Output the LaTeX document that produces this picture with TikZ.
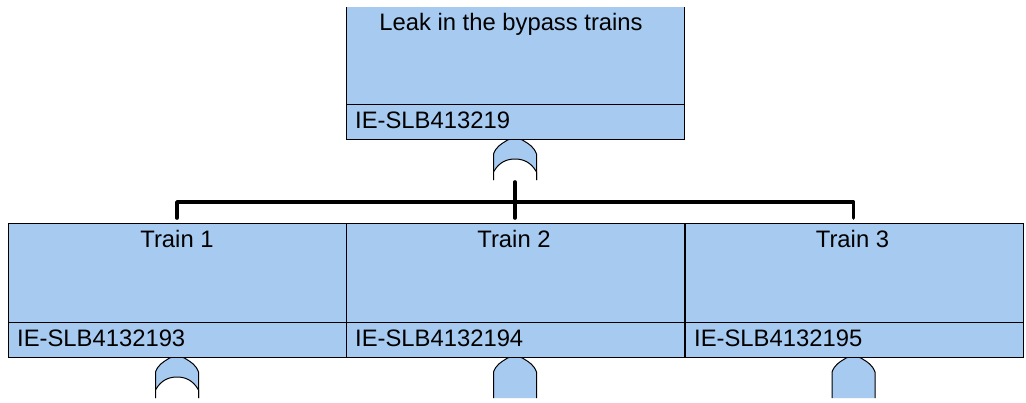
\documentclass[tikz,border=0pt]{standalone}
\usepackage{fontspec}
\setmainfont{Liberation Sans}
\definecolor{boxblue}{RGB}{166,202,240}
\tikzset{
  x=1pt,y=-1pt,
  evbox/.style={draw=black,fill=boxblue,line width=0.9pt,minimum width=338pt,minimum height=134pt,inner sep=0pt,anchor=north west},
  idbox/.style={draw=black,fill=boxblue,line width=0.9pt,minimum width=338pt,minimum height=34.5pt,inner sep=0pt,anchor=north west},
  titletext/.style={font=\fontsize{23.8}{26}\selectfont,text=black,inner sep=0pt,anchor=base},
  idtext/.style={font=\fontsize{23.8}{26}\selectfont,text=black,inner sep=0pt,anchor=base west},
  bar/.style={draw=black,line width=3.6pt,line cap=round},
  gateline/.style={draw=black,line width=1pt,fill=boxblue},
}
\newcommand{\orgate}[2]{%
  \path[gateline] (#1-21.5,#2+42) -- (#1-21.5,#2+16)
    .. controls (#1-19,#2+9) and (#1-14,#2+6) .. (#1-9,#2+3)
    .. controls (#1-6,#2) and (#1+6,#2) .. (#1+9,#2+3)
    .. controls (#1+14,#2+6) and (#1+19,#2+9) .. (#1+21.5,#2+16)
    -- (#1+21.5,#2+42);
  \path[draw=none,fill=white] (#1-21.5,#2+34) .. controls (#1-16,#2+24) and (#1-8,#2+21) .. (#1,#2+21)
    .. controls (#1+8,#2+21) and (#1+16,#2+24) .. (#1+21.5,#2+34) -- (#1+21.5,#2+44) -- (#1-21.5,#2+44) -- cycle;
  \draw[black,line width=1pt] (#1-21.5,#2+42) -- (#1-21.5,#2+34) .. controls (#1-16,#2+24) and (#1-8,#2+21) .. (#1,#2+21)
    .. controls (#1+8,#2+21) and (#1+16,#2+24) .. (#1+21.5,#2+34) -- (#1+21.5,#2+42);
}
\newcommand{\andgate}[2]{%
  \path[gateline] (#1-21.5,#2+42) -- (#1-21.5,#2+16)
    .. controls (#1-19,#2+9) and (#1-14,#2+6) .. (#1-9,#2+3)
    .. controls (#1-6,#2) and (#1+6,#2) .. (#1+9,#2+3)
    .. controls (#1+14,#2+6) and (#1+19,#2+9) .. (#1+21.5,#2+16)
    -- (#1+21.5,#2+42);
}
\begin{document}
\begin{tikzpicture}
\useasboundingbox (0,0) rectangle (1026,402);
% gates first, so that the box edges lie over their tops
\orgate{515}{138}
\orgate{177}{356}
\andgate{515}{356}
\andgate{853.5}{356}
% top event
\begin{scope}
\clip (340,7) rectangle (690,150);
\node[evbox,minimum height=134pt] (topbox) at (346,4) {};
\node[idbox] (topid) at (346,104) {};
\end{scope}
\node[titletext] (toptitle) at (511,30) {Leak in the bypass trains};
\node[idtext] (toplabel) at (355,128) {IE-SLB413219};
% sub events
\node[evbox] (tra) at (8,223) {};
\node[evbox] (trb) at (346,223) {};
\node[evbox] (trc) at (685,223) {};
\node[idbox] (ida) at (8,322) {};
\node[idbox] (idb) at (346,322) {};
\node[idbox] (idc) at (685,322) {};
\node[titletext] (ta) at (177,247) {Train 1};
\node[titletext] (tb) at (514,247) {Train 2};
\node[titletext] (tc) at (852.5,247) {Train 3};
\node[idtext] (la) at (17,346) {IE-SLB4132193};
\node[idtext] (lb) at (355,346) {IE-SLB4132194};
\node[idtext] (lc) at (694,346) {IE-SLB4132195};
% connectors
\coordinate (gateout) at (515,182);
\coordinate (busc) at (515,218);
\coordinate (busl) at (177,202);
\coordinate (busr) at (853.5,202);
\coordinate (dropl) at (177,218);
\coordinate (dropr) at (853.5,218);
\draw[bar] (gateout) -- (busc);
\draw[bar,line join=round] (dropl) -- (busl) -- (busr) -- (dropr);
% heavier lower edges, as in the reference
\draw[black,line width=1.6pt] (topid.south west) -- (topid.south east);
\draw[black,line width=1.6pt] (ida.south west) -- (idc.south east);
\end{tikzpicture}
\end{document}
